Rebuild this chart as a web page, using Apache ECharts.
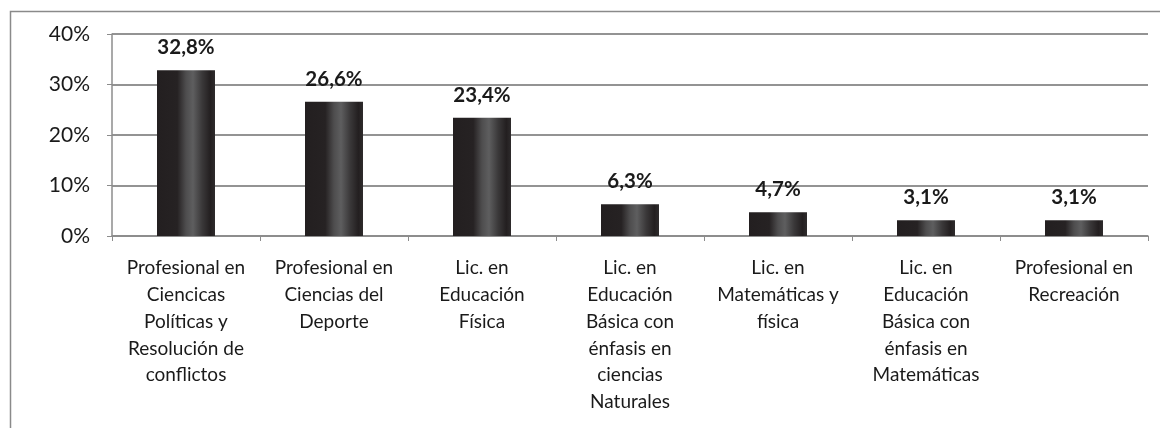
<!DOCTYPE html>
<html>
<head>
<meta charset="utf-8">
<script src="https://cdn.jsdelivr.net/npm/echarts@6/dist/echarts.min.js"></script>
<style>
  html, body { margin: 0; padding: 0; background: #fff; }
  #chart { width: 1160px; height: 428px; }
</style>
</head>
<body>
<div id="chart"></div>
<script>
// categorías (con saltos de línea como en el original)
const categories = [
  'Profesional en\nCiencicas\nPolíticas y\nResolución de\nconflictos',
  'Profesional en\nCiencias del\nDeporte',
  'Lic. en\nEducación\nFísica',
  'Lic. en\nEducación\nBásica con\nénfasis en\nciencias\nNaturales',
  'Lic. en\nMatemáticas y\nfísica',
  'Lic. en\nEducación\nBásica con\nénfasis en\nMatemáticas',
  'Profesional en\nRecreación'
]
const values = [32.8, 26.6, 23.4, 6.3, 4.7, 3.1, 3.1]
const yTicks = [0, 10, 20, 30, 40]

const font = 'Lato, "Open Sans", sans-serif'

// degradado tipo cilindro
const barColor = new echarts.graphic.LinearGradient(0, 0, 1, 0, [
  { offset: 0, color: '#231f20' },
  { offset: 0.35, color: '#262223' },
  { offset: 0.5, color: '#4e4d4e' },
  { offset: 0.62, color: '#5e5e5f' },
  { offset: 0.78, color: '#3a3839' },
  { offset: 0.92, color: '#231f20' },
  { offset: 1, color: '#2e2b2c' }
])

const chart = echarts.init(document.getElementById('chart'))

const option = {
  animation: false,
  graphic: [{
    type: 'rect',
    shape: { x: 10.5, y: 11.5, width: 1160, height: 440 },
    style: { fill: 'none', stroke: '#8a8a8a', lineWidth: 1.5 },
    silent: true
  }],
  grid: { left: 112, right: 12, top: 34, bottom: 192 },
  xAxis: {
    type: 'category',
    data: categories,
    axisLine: { lineStyle: { color: '#8c8c8c', width: 1.5 } },
    axisTick: { show: true, length: 5, lineStyle: { color: '#8c8c8c' } },
    axisLabel: {
      interval: 0,
      color: '#1a1a1a',
      fontFamily: font,
      fontSize: 19,
      lineHeight: 26.7,
      margin: 19
    }
  },
  yAxis: {
    type: 'value',
    min: 0,
    max: 40,
    interval: 10,
    axisLine: { show: true, lineStyle: { color: '#8c8c8c', width: 1.5 } },
    axisTick: { show: true, length: 5, lineStyle: { color: '#8c8c8c' } },
    splitLine: { lineStyle: { color: '#939393', width: 2 } },
    axisLabel: {
      color: '#1a1a1a',
      fontFamily: font,
      fontSize: 21,
      margin: 22,
      formatter: v => yTicks.includes(v) ? v + '%' : ''
    }
  },
  series: [{
    type: 'bar',
    data: values,
    barWidth: 58,
    itemStyle: { color: barColor },
    label: {
      show: true,
      position: 'top',
      distance: 12,
      color: '#1a1a1a',
      fontFamily: font,
      fontWeight: 'bold',
      fontSize: 20.5,
      formatter: p => p.value.toFixed(1).replace('.', ',') + '%'
    }
  }]
}

chart.setOption(option)
</script>
</body>
</html>
